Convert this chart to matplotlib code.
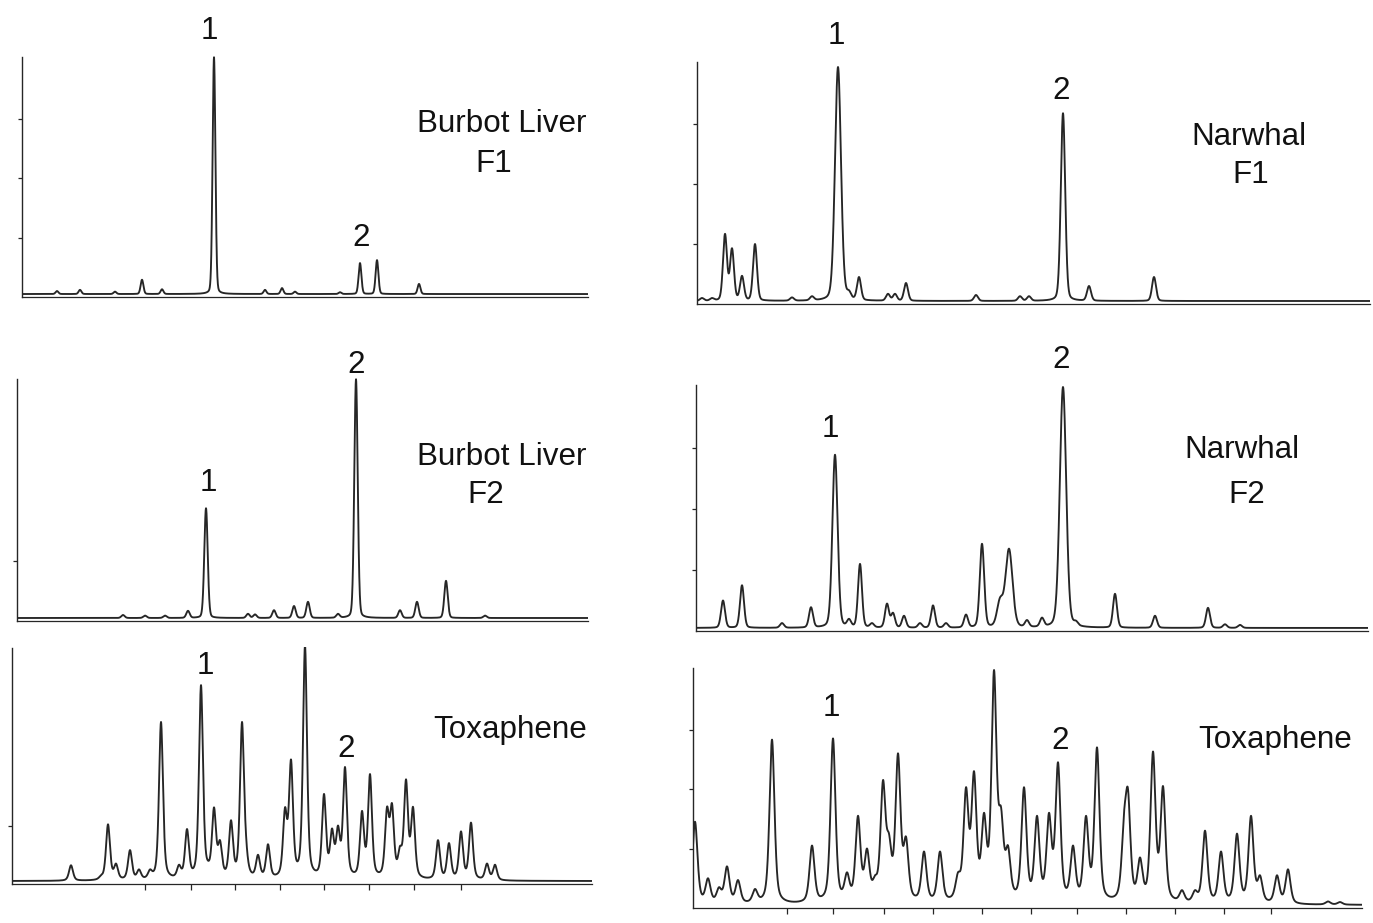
import numpy as np
import matplotlib
matplotlib.use("Agg")
import matplotlib.pyplot as plt

plt.rcParams['font.family'] = ['Liberation Sans', 'DejaVu Sans']

# ---------------- data (retention time in min, peak height in detector units) ----------------
burbot_f1_rt = [3.5, 5.8, 9.3, 12.0, 14.0, 19.2, 24.3, 26.0, 27.3, 31.8, 33.8, 35.5, 39.7]
burbot_f1_ht = [0.05, 0.07, 0.04, 0.24, 0.08, 3.98, 0.07, 0.10, 0.04, 0.03, 0.52, 0.57, 0.17]
burbot_f1_wd = 0.14

burbot_f2_rt = [10.6, 12.8, 14.8, 17.1, 18.9, 23.1, 23.8, 25.7, 27.7, 29.1, 32.1, 33.9, 38.3, 40.0, 42.9, 46.8]
burbot_f2_ht = [0.05, 0.04, 0.04, 0.12, 1.83, 0.07, 0.06, 0.13, 0.20, 0.27, 0.07, 3.98, 0.13, 0.27, 0.62, 0.04]
burbot_f2_wd = 0.17

tox_l_rt = [5.9, 8.9, 9.6, 10.4, 11.8, 12.7, 13.8, 14.9, 16.7, 17.5,
            18.9, 19.6, 20.2, 20.8, 21.9, 23.0, 23.4, 24.6, 25.6, 27.3,
            27.9, 29.3, 29.6, 31.2, 32.0, 32.6, 33.3, 35.0, 35.8,
            37.5, 38.0, 38.8, 39.4, 40.1, 42.6, 43.7, 44.9, 45.9, 47.5, 48.3]
tox_l_ht = [0.27, 0.10, 0.97, 0.30, 0.53, 0.20, 0.20, 2.72, 0.28, 0.89,
            3.35, 0.35, 1.26, 0.70, 1.04, 2.72, 0.80, 0.45, 0.63, 1.26,
            2.08, 4.03, 1.10, 1.49, 0.90, 0.95, 1.95, 1.20, 1.83,
            1.27, 1.33, 0.60, 1.74, 1.27, 0.70, 0.65, 0.85, 1.00, 0.30, 0.28]
tox_l_wd = 0.20

nar_f1_rt = [0.5, 1.5, 2.8, 3.5, 4.5, 5.8, 9.5, 11.5, 13.0, 14.1, 15.2, 16.2, 19.1, 19.8, 20.9,
             27.9, 32.3, 33.2, 36.6, 39.2, 45.7]
nar_f1_ht = [0.05, 0.05, 1.12, 0.88, 0.42, 0.95, 0.06, 0.08, 0.06, 3.90, 0.18, 0.40, 0.12, 0.12, 0.30,
             0.10, 0.08, 0.08, 3.13, 0.25, 0.40]
nar_f1_wd = [0.2, 0.2, 0.2, 0.2, 0.2, 0.2, 0.2, 0.2, 0.2, 0.3, 0.2, 0.2, 0.2, 0.2, 0.2,
             0.2, 0.2, 0.2, 0.22, 0.2, 0.2]

nar_f2_rt = [2.7, 4.6, 8.6, 11.5, 13.9, 15.3, 16.4, 17.6, 19.1, 19.7, 20.8, 22.4, 23.7, 25.0,
             27.0, 28.6, 30.4, 31.3, 33.1, 34.6, 36.7, 38.0, 41.9, 45.9, 51.2, 52.9, 54.4]
nar_f2_ht = [0.45, 0.70, 0.08, 0.34, 2.84, 0.15, 1.05, 0.08, 0.40, 0.25, 0.20, 0.08, 0.37, 0.08,
             0.22, 1.38, 0.50, 1.30, 0.13, 0.17, 3.95, 0.12, 0.56, 0.20, 0.33, 0.06, 0.05]
nar_f2_wd = [0.2, 0.2, 0.2, 0.2, 0.26, 0.2, 0.2, 0.2, 0.2, 0.2, 0.2, 0.2, 0.2, 0.2,
             0.2, 0.22, 0.3, 0.35, 0.2, 0.2, 0.32, 0.2, 0.2, 0.2, 0.2, 0.2, 0.2]

tox_r_rt = [0.2, 1.5, 2.6, 3.4, 4.5, 6.2, 7.9, 11.9, 14.0, 15.4,
            16.5, 17.4, 18.2, 19.0, 19.6, 20.5, 21.3, 23.1, 24.7, 26.5,
            27.3, 28.1, 29.1, 30.1, 30.8, 31.5, 33.1, 34.4, 35.6, 36.5,
            38.0, 39.3, 40.4, 43.1, 43.5, 44.7, 46.0, 47.0, 48.9, 50.2,
            51.2, 52.8, 54.4, 55.8, 56.7, 58.4, 59.5, 63.5, 64.7]
tox_r_ht = [1.40, 0.45, 0.30, 0.65, 0.42, 0.27, 2.78, 1.00, 2.80, 0.55,
            1.50, 0.95, 0.50, 2.10, 1.20, 2.55, 1.15, 0.90, 0.90, 0.55,
            1.98, 2.25, 1.55, 3.95, 1.65, 1.00, 1.98, 1.50, 1.55, 2.40,
            1.00, 1.50, 2.65, 1.55, 1.95, 0.80, 2.58, 2.00, 0.25, 0.25,
            1.25, 0.90, 1.20, 1.50, 0.50, 0.50, 0.60, 0.06, 0.05]
tox_r_wd = 0.25

peak_ids = ['1', '2']
burbot_f1_lbl_rt, burbot_f1_lbl_y = [18.7, 33.9], [4.34, 0.86]
burbot_f2_lbl_rt, burbot_f2_lbl_y = [19.1, 33.9], [2.17, 4.13]
tox_l_lbl_rt, tox_l_lbl_y = [19.3, 33.4], [3.59, 2.17]
nar_f1_lbl_rt, nar_f1_lbl_y = [13.9, 36.4], [4.33, 3.42]
nar_f2_lbl_rt, nar_f2_lbl_y = [13.4, 36.5], [3.18, 4.31]
tox_r_lbl_rt, tox_r_lbl_y = [13.8, 36.7], [3.23, 2.67]

tox_l_xticks = [13.3, 17.9, 22.3, 26.8, 31.2, 35.7, 40.2, 44.9]
tox_r_xticks = [9.4, 14.0, 19.1, 24.0, 28.9, 33.8, 38.4, 43.3, 48.2, 53.1, 57.8]

# ---------------- rendering ----------------
W, H = 1373, 923
fig = plt.figure(figsize=(W / 100, H / 100), dpi=100)
fig.patch.set_facecolor('white')

INK = '#262626'
FS = 22.6
BASE = 0.05
YMIN, YMAX = -0.15, 4.05


def profile(t, c, w, eta):
    d = (t - c) / w
    return (1 - eta) * np.exp(-0.5 * d ** 2) + eta / (1 + (d / 1.1774) ** 2)


def chromatogram(rt, ht, wd, tmax, eta):
    rt = np.asarray(rt, float)
    ht = np.asarray(ht, float)
    wd = np.broadcast_to(np.asarray(wd, float), rt.shape)
    G = profile(rt[:, None], rt[None, :], wd[None, :], eta)
    a = ht.copy()
    for _ in range(800):
        a *= ht / (G @ a)
    t = np.linspace(0, tmax, 6000)
    y = (a[None, :] * profile(t[:, None], rt[None, :], wd[None, :], eta)).sum(1)
    return t, y + BASE


panels = [
    dict(rt=burbot_f1_rt, ht=burbot_f1_ht, wd=burbot_f1_wd, eta=0.15, xl=22, y0=297, unit=59.5, tmax=56.6,
         yticks=[1, 2, 3], xticks=[], lrt=burbot_f1_lbl_rt, ly=burbot_f1_lbl_y,
         names=[('Burbot Liver', 48.0, 2.77), ('F1', 47.2, 2.10)]),
    dict(rt=burbot_f2_rt, ht=burbot_f2_ht, wd=burbot_f2_wd, eta=0.15, xl=17, y0=621, unit=60, tmax=57.1,
         yticks=[1], xticks=[], lrt=burbot_f2_lbl_rt, ly=burbot_f2_lbl_y,
         names=[('Burbot Liver', 48.5, 2.60), ('F2', 46.9, 1.97)]),
    dict(rt=tox_l_rt, ht=tox_l_ht, wd=tox_l_wd, eta=0.5, xl=12, y0=884, unit=58.5, tmax=58.0,
         yticks=[1], xticks=tox_l_xticks, lrt=tox_l_lbl_rt, ly=tox_l_lbl_y,
         names=[('Toxaphene', 49.8, 2.50)]),
    dict(rt=nar_f1_rt, ht=nar_f1_ht, wd=nar_f1_wd, eta=0.2, xl=697, y0=304, unit=60, tmax=67.3,
         yticks=[1, 2, 3], xticks=[], lrt=nar_f1_lbl_rt, ly=nar_f1_lbl_y,
         names=[('Narwhal', 55.2, 2.65), ('F1', 55.4, 2.02)]),
    dict(rt=nar_f2_rt, ht=nar_f2_ht, wd=nar_f2_wd, eta=0.2, xl=696, y0=631, unit=61, tmax=67.2,
         yticks=[1, 2, 3], xticks=[], lrt=nar_f2_lbl_rt, ly=nar_f2_lbl_y,
         names=[('Narwhal', 54.6, 2.84), ('F2', 55.1, 2.10)]),
    dict(rt=tox_r_rt, ht=tox_r_ht, wd=tox_r_wd, eta=0.5, xl=693, y0=908, unit=59.5, tmax=66.9,
         yticks=[1, 2, 3], xticks=tox_r_xticks, lrt=tox_r_lbl_rt, ly=tox_r_lbl_y,
         names=[('Toxaphene', 58.2, 2.69)]),
]

for p in panels:
    bot_px = p['y0'] - YMIN * p['unit']
    top_px = p['y0'] - YMAX * p['unit']
    ax = fig.add_axes([p['xl'] / W, 1 - bot_px / H, p['tmax'] * 10 / W, (bot_px - top_px) / H])
    ax.set_xlim(0, p['tmax'])
    ax.set_ylim(YMIN, YMAX)
    ax.set_facecolor('none')

    t, y = chromatogram(p['rt'], p['ht'], p['wd'], p['tmax'], p['eta'])
    ax.plot(t, y, color=INK, lw=1.35, solid_joinstyle='round')

    for s in ('top', 'right'):
        ax.spines[s].set_visible(False)
    ax.spines['left'].set_bounds(0, 4.03)
    ax.spines['left'].set_color(INK)
    ax.spines['left'].set_linewidth(1.0)
    ax.spines['bottom'].set_position(('data', 0))
    ax.spines['bottom'].set_color(INK)
    ax.spines['bottom'].set_linewidth(0.9)

    ax.set_yticks(p['yticks'])
    ax.set_xticks(p['xticks'])
    ax.tick_params(axis='y', direction='out', length=3, width=0.9, color=INK, labelleft=False)
    ax.tick_params(axis='x', direction='out', length=4, width=0.9, color=INK, labelbottom=False)

    for lab, xr, yy in zip(peak_ids, p['lrt'], p['ly']):
        ax.text(xr, yy, lab, ha='center', va='baseline', fontsize=FS, color='#111111', clip_on=False)
    for txt, xx, yy in p['names']:
        ax.text(xx, yy, txt, ha='center', va='baseline', fontsize=FS, color='#111111', clip_on=False)

fig.savefig('out.png', dpi=100, facecolor='white')
